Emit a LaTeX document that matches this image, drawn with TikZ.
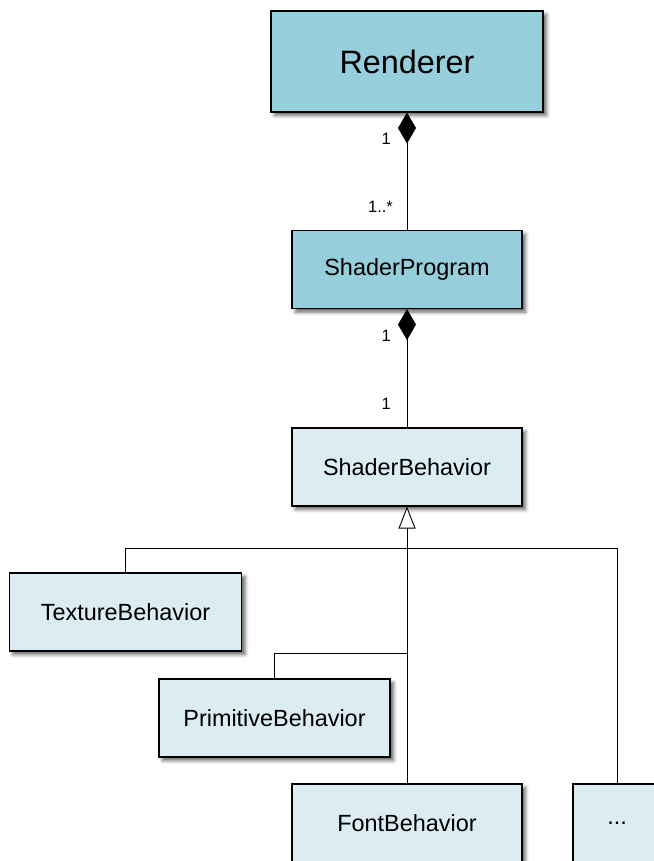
\documentclass[tikz,border=0pt]{standalone}
\usepackage{fontspec}
\setmainfont{Liberation Sans}
\usetikzlibrary{arrows.meta,shadows.blur}
\definecolor{classdark}{RGB}{150,206,220}
\definecolor{classlight}{RGB}{219,237,243}
\begin{document}
\begin{tikzpicture}[x=1bp,y=-1bp,
  classbox/.style={draw=black, line width=1.1bp, rectangle, inner sep=0pt,
    minimum width=230bp, minimum height=78bp, font=\fontsize{23.5}{26}\selectfont,
    blur shadow={shadow xshift=3.5bp, shadow yshift=-3.5bp, shadow blur radius=3.5bp, shadow opacity=60}},
  darkbox/.style={classbox, fill=classdark},
  lightbox/.style={classbox, fill=classlight},
  link/.style={draw=black, line width=0.9bp},
  compose/.style={link, {Diamond[length=31bp,width=18bp]}-},
  inherit/.style={link, {Triangle[open,length=22bp,width=17bp,fill=white]}-},
  mult/.style={font=\fontsize{16.5}{18}\selectfont, inner sep=0pt, anchor=base east}
]
\useasboundingbox (0,0) rectangle (654,861);

% classes
\node[darkbox, minimum width=272bp, minimum height=101bp, font=\fontsize{32.5}{36}\selectfont] (r) at (407,61.5) {Renderer};
\node[darkbox] (sp) at (407,269.5) {ShaderProgram};
\node[lightbox] (sb) at (407,467) {ShaderBehavior};
\node[lightbox, minimum width=232bp] (tb) at (125.5,612) {TextureBehavior};
\node[lightbox, minimum width=231bp] (pb) at (274.5,718) {PrimitiveBehavior};
\node[lightbox] (fb) at (407,823) {FontBehavior};
\node[lightbox, minimum width=88bp] (more) at (617,823) {...};

% composition links
\draw[compose] (r.south) -- (sp.north);
\draw[compose] (sp.south) -- (sb.north);

% multiplicities
\node[mult] (m1) at (391,144) {1};
\node[mult] (m2) at (393,212.5) {1..*};
\node[mult] (m3) at (391,341) {1};
\node[mult] (m4) at (391,409) {1};

% generalisation tree
\coordinate (bus) at (407,548);
\coordinate (pbjoin) at (407,653);
\draw[inherit] (sb.south) -- (bus);
\draw[link] (bus) -| (tb.north);
\draw[link] (bus) -| (more.north);
\draw[link] (bus) -- (fb.north);
\draw[link] (pbjoin) -| (pb.north);
\end{tikzpicture}
\end{document}
